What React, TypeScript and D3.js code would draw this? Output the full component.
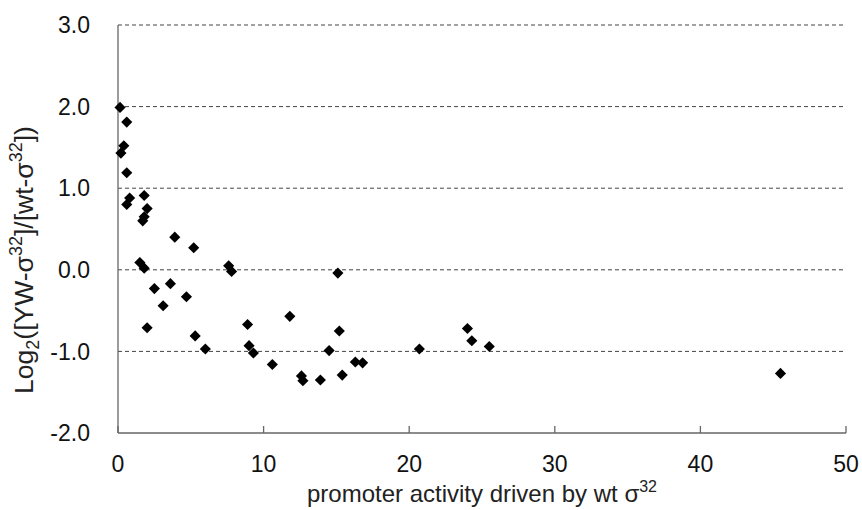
import React from "react";
import * as d3 from "d3";

// promoter activity (x) vs log2 ratio (y)
const activity = [
  0.14, 0.6, 0.4, 0.2, 0.6, 0.8, 0.6, 1.8, 2.0, 1.8, 1.7,
  3.9, 5.2, 1.5, 1.8, 2.5, 3.6, 3.1, 4.7, 2.0, 5.3, 6.0,
  7.6, 7.8, 8.9, 9.0, 9.3, 10.6, 11.8, 12.6, 12.7, 13.9,
  14.5, 15.1, 15.2, 15.4, 16.3, 16.8, 20.7, 24.0, 24.3, 25.5, 45.5,
];
const log2Ratio = [
  1.99, 1.81, 1.52, 1.43, 1.19, 0.88, 0.80, 0.91, 0.75, 0.65, 0.60,
  0.40, 0.27, 0.09, 0.02, -0.23, -0.17, -0.44, -0.33, -0.71, -0.81, -0.97,
  0.05, -0.02, -0.67, -0.93, -1.02, -1.16, -0.57, -1.30, -1.36, -1.35,
  -0.99, -0.04, -0.75, -1.29, -1.13, -1.14, -0.97, -0.72, -0.87, -0.94, -1.27,
];
const xTicks = [0, 10, 20, 30, 40, 50];
const yTicks = [3, 2, 1, 0, -1, -2];

const W = 862;
const H = 510;
const margin = { left: 118, right: 16, top: 25, bottom: 77 };
const FONT = "'Liberation Sans', Arial, sans-serif";

export default function App() {
  const x = d3.scaleLinear().domain([0, 50]).range([margin.left, W - margin.right]);
  const y = d3.scaleLinear().domain([-2, 3]).range([H - margin.bottom, margin.top]);
  const diamond = d3.symbol().type(d3.symbolSquare).size(62)();
  const axisColor = "#666";
  const x0 = x(0);
  const x1 = x(50);
  const yb = y(-2);

  return (
    <svg width={W} height={H} style={{ position: "absolute", left: 0, top: 0, background: "#fff" }}>
      {/* dashed horizontal gridlines */}
      {yTicks
        .filter((t) => t > -2)
        .map((t) => (
          <line
            key={"g" + t}
            x1={x0}
            x2={x1}
            y1={y(t)}
            y2={y(t)}
            stroke="#444"
            strokeWidth={1}
            strokeDasharray="4,3"
          />
        ))}
      {/* axes */}
      <line x1={x0} x2={x0} y1={y(3)} y2={yb} stroke={axisColor} strokeWidth={1.3} />
      <line x1={x0} x2={x1} y1={yb} y2={yb} stroke={axisColor} strokeWidth={1.3} />
      {xTicks.map((t) => (
        <line key={"xt" + t} x1={x(t)} x2={x(t)} y1={yb} y2={yb - 7} stroke={axisColor} strokeWidth={1.3} />
      ))}
      {/* tick labels */}
      {xTicks.map((t) => (
        <text
          key={"xl" + t}
          x={x(t)}
          y={yb + 39}
          textAnchor="middle"
          fontFamily={FONT}
          fontSize={23}
          fill="#111"
        >
          {t}
        </text>
      ))}
      {yTicks.map((t) => (
        <text
          key={"yl" + t}
          x={x0 - 28}
          y={y(t)}
          dy="0.36em"
          textAnchor="end"
          fontFamily={FONT}
          fontSize={23}
          fill="#111"
        >
          {t.toFixed(1)}
        </text>
      ))}
      {/* axis titles */}
      <text
        x={(x0 + x1) / 2}
        y={H - 8}
        textAnchor="middle"
        fontFamily={FONT}
        fontSize={24}
        fill="#222"
      >
        promoter activity driven by wt σ
        <tspan fontSize={16} dy={-10}>32</tspan>
      </text>
      <text
        transform={`translate(33, 260) rotate(-90)`}
        textAnchor="middle"
        fontFamily={FONT}
        fontSize={26.5}
        fill="#222"
      >
        Log
        <tspan fontSize={18} dy={6}>2</tspan>
        <tspan dy={-6}>([YW-σ</tspan>
        <tspan fontSize={18} dy={-11}>32</tspan>
        <tspan dy={11}>]/[wt-σ</tspan>
        <tspan fontSize={18} dy={-11}>32</tspan>
        <tspan dy={11}>])</tspan>
      </text>
      {/* data points */}
      {activity.map((a, i) => (
        <path
          key={"p" + i}
          d={diamond}
          transform={`translate(${x(a)},${y(log2Ratio[i])}) rotate(45)`}
          fill="#000"
        />
      ))}
    </svg>
  );
}
